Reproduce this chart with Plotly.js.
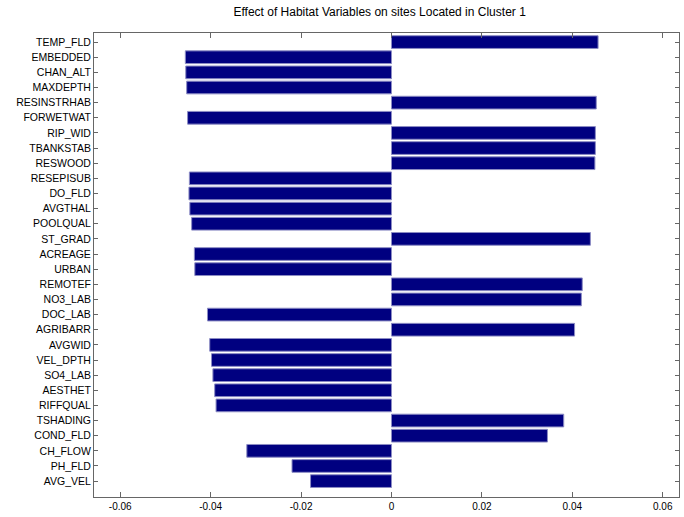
<!DOCTYPE html>
<html>
<head>
<meta charset="utf-8">
<script src="https://cdn.plot.ly/plotly-3.0.1.min.js"></script>
<style>html,body{margin:0;padding:0;background:#fff;}#chart{width:684px;height:517px;}</style>
</head>
<body>
<div id="chart"></div>
<script>
const variables = ["TEMP_FLD","EMBEDDED","CHAN_ALT","MAXDEPTH","RESINSTRHAB","FORWETWAT","RIP_WID","TBANKSTAB","RESWOOD","RESEPISUB","DO_FLD","AVGTHAL","POOLQUAL","ST_GRAD","ACREAGE","URBAN","REMOTEF","NO3_LAB","DOC_LAB","AGRIBARR","AVGWID","VEL_DPTH","SO4_LAB","AESTHET","RIFFQUAL","TSHADING","COND_FLD","CH_FLOW","PH_FLD","AVG_VEL"];
const effects = [0.0457,-0.0456,-0.0455,-0.0453,0.0453,-0.0451,0.0451,0.0451,0.0450,-0.0447,-0.0448,-0.0446,-0.0442,0.0440,-0.0436,-0.0435,0.0422,0.0420,-0.0407,0.0405,-0.0402,-0.0398,-0.0395,-0.0391,-0.0388,0.0381,0.0345,-0.0320,-0.0220,-0.0179];
const xTicks = [-0.06,-0.04,-0.02,0,0.02,0.04,0.06];
const xTickText = ["-0.06","-0.04","-0.02","0","0.02","0.04","0.06"];
const chartTitle = "Effect of Habitat Variables on sites Located in Cluster 1";

const trace = {
  type: "bar",
  orientation: "h",
  x: effects,
  y: variables,
  width: 0.84,
  marker: {color: "#000080", line: {color: "#8c8cc4", width: 1}},
  hoverinfo: "x+y"
};

const layout = {
  width: 684, height: 517,
  paper_bgcolor: "#fff", plot_bgcolor: "#fff",
  margin: {l: 94, r: 5, t: 33, b: 20, pad: 0},
  showlegend: false,
  title: {text: chartTitle, x: 0.555, xanchor: "center", y: 0.985, yanchor: "top",
          font: {family: "Liberation Sans, Arial, sans-serif", size: 12, color: "#000"}},
  xaxis: {
    range: [-0.0658, 0.0636],
    tickvals: xTicks, ticktext: xTickText,
    ticks: "inside", ticklen: 5, tickcolor: "#666", tickwidth: 1,
    showline: true, linecolor: "#666", linewidth: 1, mirror: "ticks",
    showgrid: false, zeroline: false,
    tickfont: {family: "Liberation Sans, Arial, sans-serif", size: 10, color: "#000"}
  },
  yaxis: {
    type: "category",
    categoryorder: "array", categoryarray: variables,
    range: [30.05, -0.6],
    ticks: "inside", ticklen: 4, tickcolor: "#666", tickwidth: 1,
    showline: true, linecolor: "#666", linewidth: 1, mirror: "ticks",
    showgrid: false, zeroline: false,
    tickfont: {family: "Liberation Sans, Arial, sans-serif", size: 10.5, color: "#000"}
  }
};

Plotly.newPlot("chart", [trace], layout, {staticPlot: true, displayModeBar: false});
</script>
</body>
</html>
